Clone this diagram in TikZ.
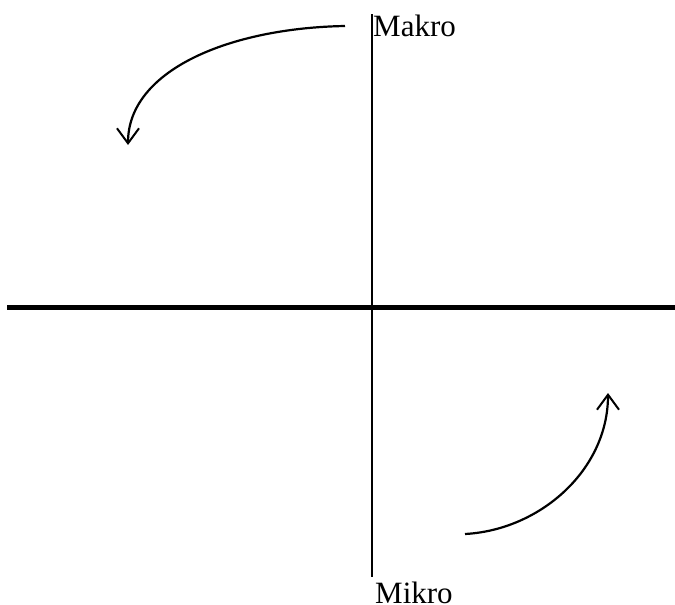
\documentclass[tikz,border=0pt]{standalone}
\usepackage{fontspec}
\setmainfont{Liberation Serif}
\usetikzlibrary{arrows.meta}

\begin{document}
\begin{tikzpicture}[
    x=1pt, y=-1pt,
    axis/.style={line width=1.5pt, black},
    mainaxis/.style={line width=5pt, black},
    turn/.style={line width=2.2pt, black, -{Straight Barb[length=15pt, width=22pt, line width=2pt]}},
    lbl/.style={anchor=base west, inner sep=0pt, font=\fontsize{31}{34}\selectfont}
]
\useasboundingbox (0,0) rectangle (675,605);

% Axes
\coordinate (top) at (372, 14);
\coordinate (bottom) at (372, 577);
\coordinate (left) at (7, 307);
\coordinate (right) at (675, 307);
\draw[mainaxis] (left) -- (right);
\draw[axis] (top) -- (bottom);

% Labels
\node[lbl] (makro) at (373, 36) {Makro};
\node[lbl] (mikro) at (375, 603) {Mikro};

% Turning arrows
\coordinate (a1) at (345, 26);
\coordinate (b1) at (128, 145);
\draw[turn] (a1) .. controls (230, 28) and (128, 70) .. (b1);

\coordinate (a2) at (465, 534);
\coordinate (b2) at (608, 393);
\draw[turn] (a2) .. controls (540, 530) and (608, 470) .. (b2);

\end{tikzpicture}
\end{document}
